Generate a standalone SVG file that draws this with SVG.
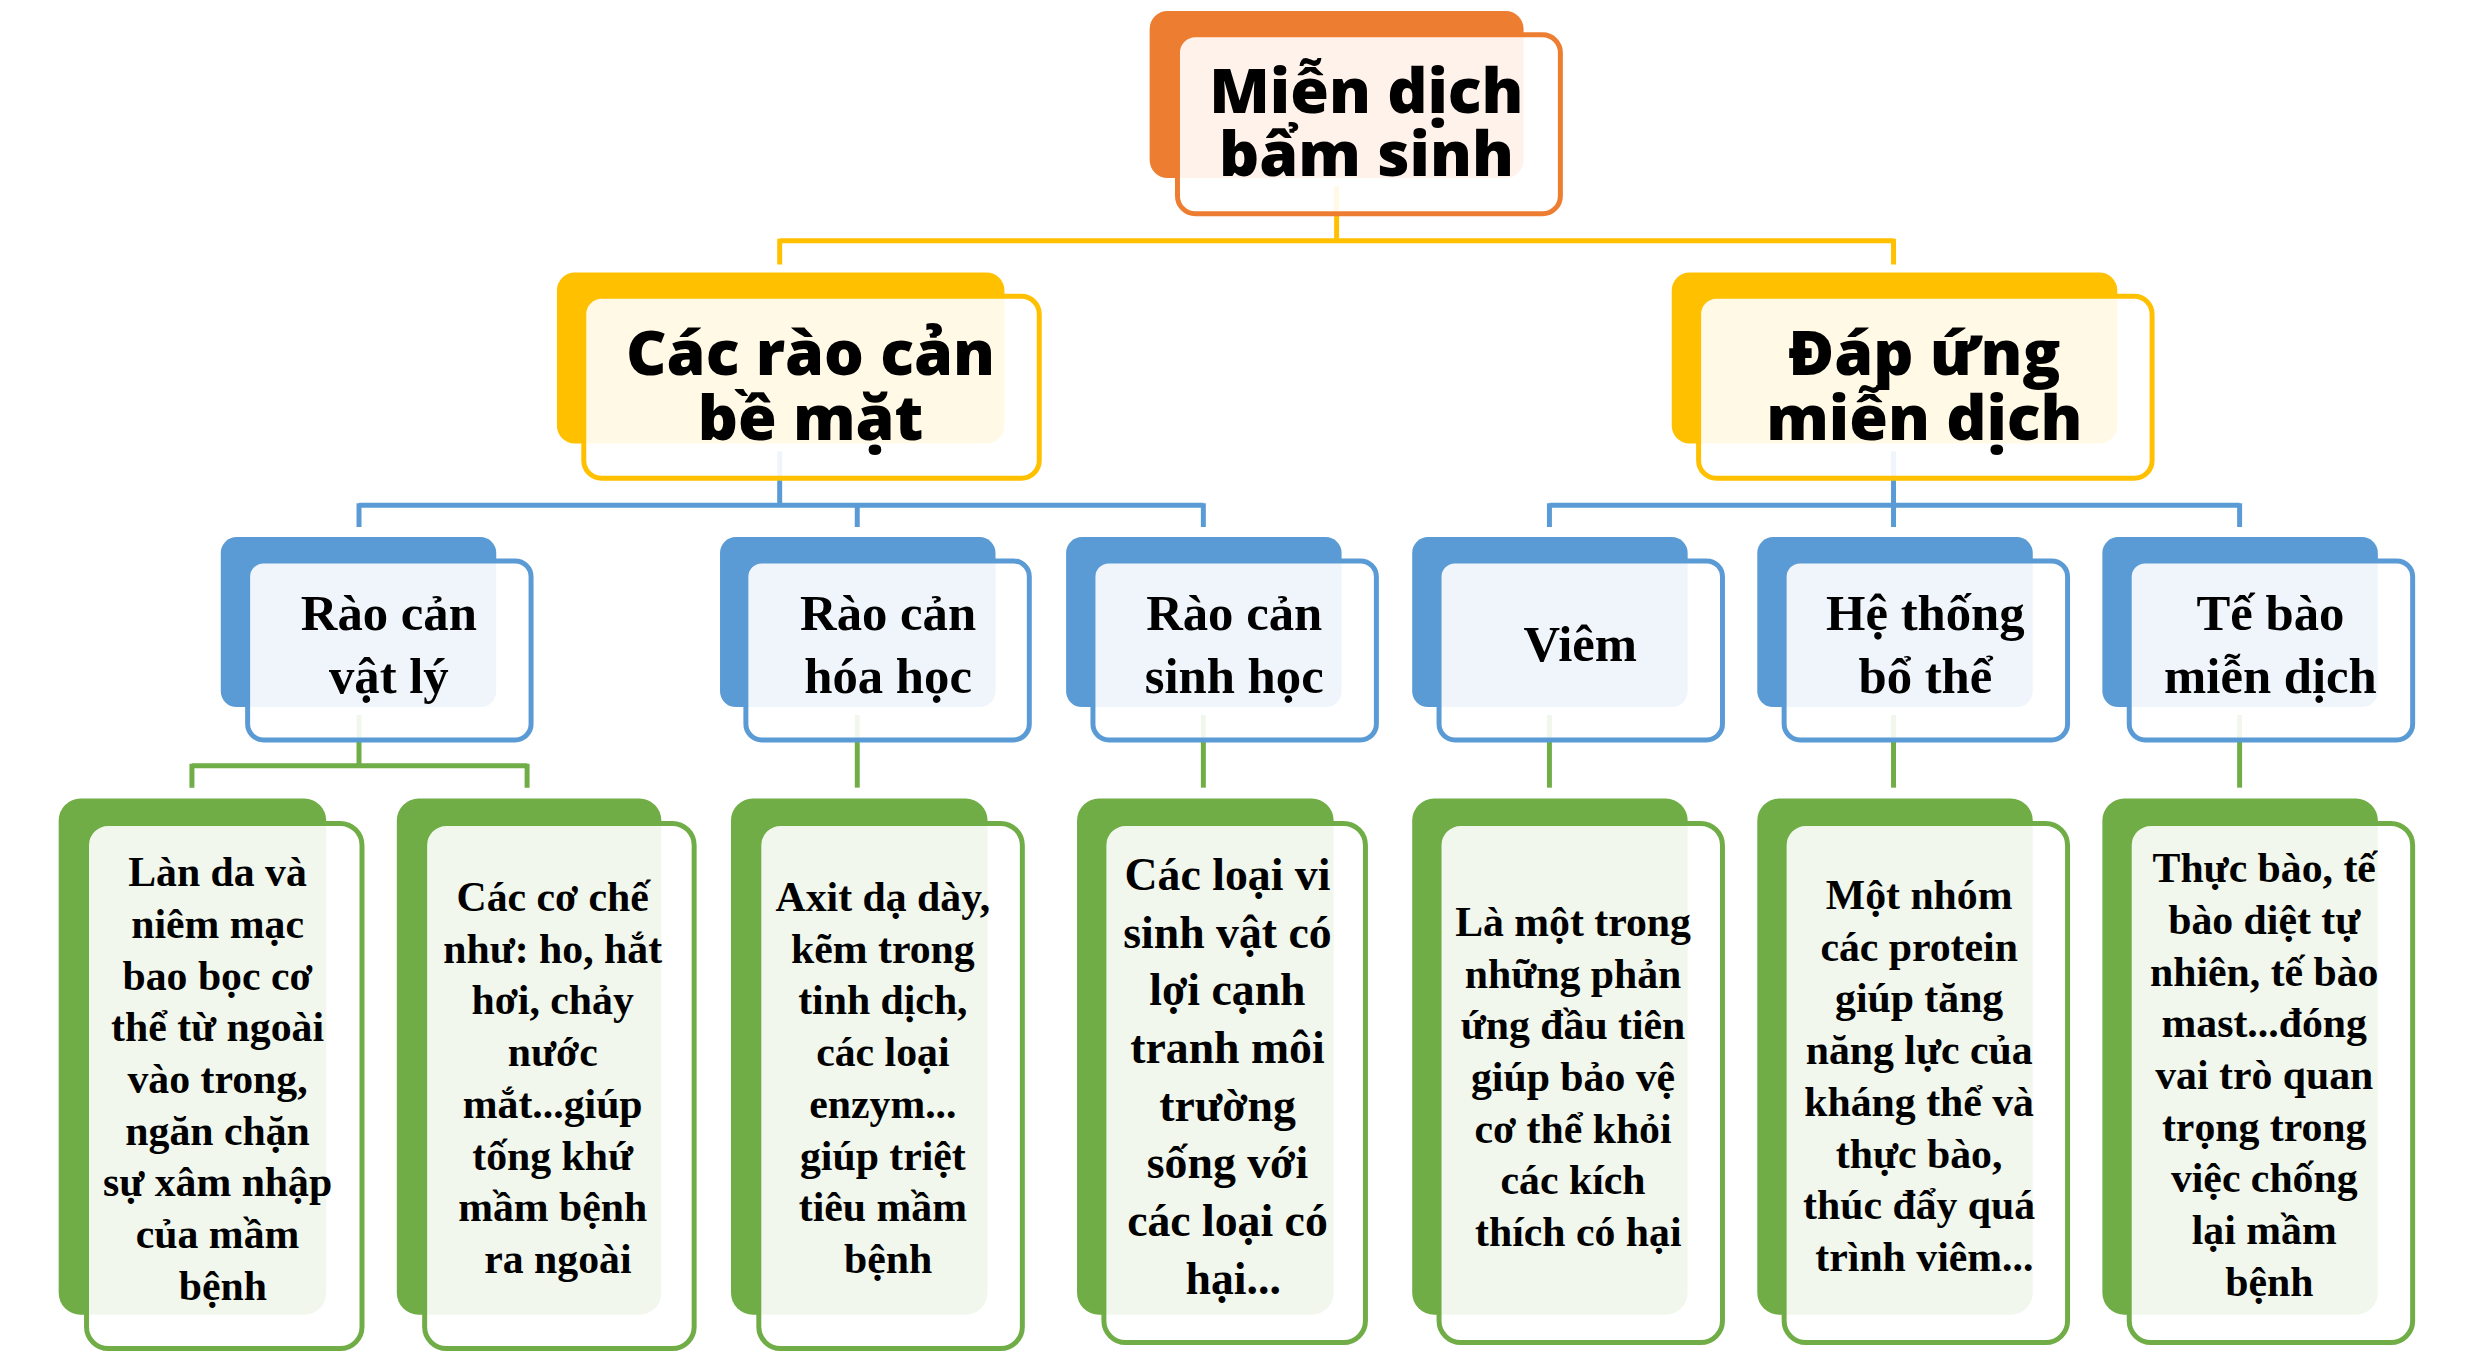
<svg xmlns="http://www.w3.org/2000/svg" width="2470" height="1361" viewBox="0 0 2470 1361">
<style>
.bg{fill:#ffffff}
.front{fill:#ffffff;fill-opacity:0.9;stroke-width:5}
.o{fill:#ED7D31}.os{stroke:#ED7D31}
.y{fill:#FFC000}.ys{stroke:#FFC000}
.b{fill:#5B9BD5}.bs{stroke:#5B9BD5}
.g{fill:#70AD47}.gs{stroke:#70AD47}
.conn{fill:none;stroke-width:5;stroke-linejoin:miter}
.t1{font-family:"Open Sans","Noto Sans","DejaVu Sans",sans-serif;font-weight:800;font-size:63px;fill:#000;text-anchor:middle}
.t3{font-family:"Liberation Serif","DejaVu Serif",serif;font-weight:700;font-size:51px;fill:#000;text-anchor:middle}
.t4{font-family:"Liberation Serif","DejaVu Serif",serif;font-weight:700;font-size:42px;fill:#000;text-anchor:middle}
.t4b{font-family:"Liberation Serif","DejaVu Serif",serif;font-weight:700;font-size:46px;fill:#000;text-anchor:middle}
</style>
<rect class="bg" x="0" y="0" width="2470" height="1361"/>
<g transform="scale(0.9945)">
<g id="connectors">
  <path class="conn ys" d="M1344 187 V242 M784 242 H1904 M784 240 V266 M1904 240 V266"/>
  <path class="conn bs" d="M784 454 V508 M361 508 H1210 M361 506 V530 M862 506 V530 M1210 506 V530"/>
  <path class="conn bs" d="M1904 454 V508 M1558 508 H2252 M1558 506 V530 M1904 506 V530 M2252 506 V530"/>
  <path class="conn gs" d="M361 719 V770 M193 770 H530 M193 768 V792 M530 768 V792"/>
  <path class="conn gs" d="M862 719 V792"/>
  <path class="conn gs" d="M1210 719 V792"/>
  <path class="conn gs" d="M1558 719 V792"/>
  <path class="conn gs" d="M1904 719 V792"/>
  <path class="conn gs" d="M2252 719 V792"/>
</g>

<g id="node-root">
  <rect class="o" x="1156" y="11" width="376" height="168" rx="18"/>
  <rect class="front os" x="1184" y="35" width="385" height="180" rx="18"/>
  <text class="t1"><tspan x="1374" y="114">Miễn dịch</tspan><tspan x="1374" y="177">bẩm sinh</tspan></text>
</g>

<g id="node-be-mat">
  <rect class="y" x="560" y="274" width="450" height="172" rx="18"/>
  <rect class="front ys" x="587" y="298" width="458" height="183" rx="18"/>
  <text class="t1"><tspan x="815" y="377">Các rào cản</tspan><tspan x="815" y="442">bề mặt</tspan></text>
</g>

<g id="node-dap-ung">
  <rect class="y" x="1681" y="274" width="448" height="172" rx="18"/>
  <rect class="front ys" x="1708" y="298" width="456" height="183" rx="18"/>
  <text class="t1"><tspan x="1935" y="377">Đáp ứng</tspan><tspan x="1935" y="442">miễn dịch</tspan></text>
</g>

<g id="node-vat-ly">
  <rect class="b" x="222" y="540" width="277" height="171" rx="16"/>
  <rect class="front bs" x="249" y="564" width="285" height="180" rx="16"/>
  <text class="t3"><tspan x="391" y="633">Rào cản</tspan><tspan x="391" y="697">vật lý</tspan></text>
</g>

<g id="node-hoa-hoc">
  <rect class="b" x="724" y="540" width="277" height="171" rx="16"/>
  <rect class="front bs" x="750" y="564" width="285" height="180" rx="16"/>
  <text class="t3"><tspan x="893" y="633">Rào cản</tspan><tspan x="893" y="697">hóa học</tspan></text>
</g>

<g id="node-sinh-hoc">
  <rect class="b" x="1072" y="540" width="277" height="171" rx="16"/>
  <rect class="front bs" x="1099" y="564" width="285" height="180" rx="16"/>
  <text class="t3"><tspan x="1241" y="633">Rào cản</tspan><tspan x="1241" y="697">sinh học</tspan></text>
</g>

<g id="node-viem">
  <rect class="b" x="1420" y="540" width="277" height="171" rx="16"/>
  <rect class="front bs" x="1447" y="564" width="285" height="180" rx="16"/>
  <text class="t3" x="1589" y="665">Viêm</text>
</g>

<g id="node-bo-the">
  <rect class="b" x="1767" y="540" width="277" height="171" rx="16"/>
  <rect class="front bs" x="1794" y="564" width="285" height="180" rx="16"/>
  <text class="t3"><tspan x="1936" y="633">Hệ thống</tspan><tspan x="1936" y="697">bổ thể</tspan></text>
</g>

<g id="node-te-bao">
  <rect class="b" x="2114" y="540" width="277" height="171" rx="16"/>
  <rect class="front bs" x="2141" y="564" width="285" height="180" rx="16"/>
  <text class="t3"><tspan x="2283" y="633">Tế bào</tspan><tspan x="2283" y="697">miễn dịch</tspan></text>
</g>

<g id="leaf-1">
  <rect class="g" x="59" y="803" width="269" height="519" rx="22"/>
  <rect class="front gs" x="87" y="828" width="277" height="528" rx="22"/>
  <text class="t4">
    <tspan x="224" y="891">Làn da và</tspan>
    <tspan x="224" y="943">niêm mạc</tspan>
    <tspan x="224" y="995">bao bọc cơ</tspan>
    <tspan x="224" y="1047">thể từ ngoài</tspan>
    <tspan x="224" y="1099">vào trong,</tspan>
    <tspan x="224" y="1151">ngăn chặn</tspan>
    <tspan x="224" y="1203">sự xâm nhập</tspan>
    <tspan x="224" y="1255">của mầm</tspan>
    <tspan x="224" y="1307">bệnh</tspan>
  </text>
</g>

<g id="leaf-2">
  <rect class="g" x="399" y="803" width="266" height="519" rx="22"/>
  <rect class="front gs" x="427" y="828" width="271" height="528" rx="22"/>
  <text class="t4">
    <tspan x="561" y="916">Các cơ chế</tspan>
    <tspan x="561" y="968">như: ho, hắt</tspan>
    <tspan x="561" y="1020">hơi, chảy</tspan>
    <tspan x="561" y="1072">nước</tspan>
    <tspan x="561" y="1124">mắt...giúp</tspan>
    <tspan x="561" y="1176">tống khứ</tspan>
    <tspan x="561" y="1228">mầm bệnh</tspan>
    <tspan x="561" y="1280">ra ngoài</tspan>
  </text>
</g>

<g id="leaf-3">
  <rect class="g" x="735" y="803" width="258" height="519" rx="22"/>
  <rect class="front gs" x="763" y="828" width="265" height="528" rx="22"/>
  <text class="t4">
    <tspan x="893" y="916">Axit dạ dày,</tspan>
    <tspan x="893" y="968">kẽm trong</tspan>
    <tspan x="893" y="1020">tinh dịch,</tspan>
    <tspan x="893" y="1072">các loại</tspan>
    <tspan x="893" y="1124">enzym...</tspan>
    <tspan x="893" y="1176">giúp triệt</tspan>
    <tspan x="893" y="1228">tiêu mầm</tspan>
    <tspan x="893" y="1280">bệnh</tspan>
  </text>
</g>

<g id="leaf-4">
  <rect class="g" x="1083" y="803" width="258" height="519" rx="22"/>
  <rect class="front gs" x="1110" y="828" width="263" height="522" rx="22"/>
  <text class="t4b">
    <tspan x="1240" y="895">Các loại vi</tspan>
    <tspan x="1240" y="953">sinh vật có</tspan>
    <tspan x="1240" y="1011">lợi cạnh</tspan>
    <tspan x="1240" y="1069">tranh môi</tspan>
    <tspan x="1240" y="1127">trường</tspan>
    <tspan x="1240" y="1185">sống với</tspan>
    <tspan x="1240" y="1243">các loại có</tspan>
    <tspan x="1240" y="1301">hại...</tspan>
  </text>
</g>

<g id="leaf-5">
  <rect class="g" x="1420" y="803" width="277" height="519" rx="22"/>
  <rect class="front gs" x="1447" y="828" width="285" height="522" rx="22"/>
  <text class="t4">
    <tspan x="1587" y="941">Là một trong</tspan>
    <tspan x="1587" y="993">những phản</tspan>
    <tspan x="1587" y="1045">ứng đầu tiên</tspan>
    <tspan x="1587" y="1097">giúp bảo vệ</tspan>
    <tspan x="1587" y="1149">cơ thể khỏi</tspan>
    <tspan x="1587" y="1201">các kích</tspan>
    <tspan x="1587" y="1253">thích có hại</tspan>
  </text>
</g>

<g id="leaf-6">
  <rect class="g" x="1767" y="803" width="277" height="519" rx="22"/>
  <rect class="front gs" x="1794" y="828" width="285" height="522" rx="22"/>
  <text class="t4">
    <tspan x="1935" y="914">Một nhóm</tspan>
    <tspan x="1935" y="966">các protein</tspan>
    <tspan x="1935" y="1018">giúp tăng</tspan>
    <tspan x="1935" y="1070">năng lực của</tspan>
    <tspan x="1935" y="1122">kháng thể và</tspan>
    <tspan x="1935" y="1174">thực bào,</tspan>
    <tspan x="1935" y="1226">thúc đẩy quá</tspan>
    <tspan x="1935" y="1278">trình viêm...</tspan>
  </text>
</g>

<g id="leaf-7">
  <rect class="g" x="2114" y="803" width="277" height="519" rx="22"/>
  <rect class="front gs" x="2141" y="828" width="285" height="522" rx="22"/>
  <text class="t4">
    <tspan x="2282" y="887">Thực bào, tế</tspan>
    <tspan x="2282" y="939">bào diệt tự</tspan>
    <tspan x="2282" y="991">nhiên, tế bào</tspan>
    <tspan x="2282" y="1043">mast...đóng</tspan>
    <tspan x="2282" y="1095">vai trò quan</tspan>
    <tspan x="2282" y="1147">trọng trong</tspan>
    <tspan x="2282" y="1199">việc chống</tspan>
    <tspan x="2282" y="1251">lại mầm</tspan>
    <tspan x="2282" y="1303">bệnh</tspan>
  </text>
</g>
</g>
</svg>
